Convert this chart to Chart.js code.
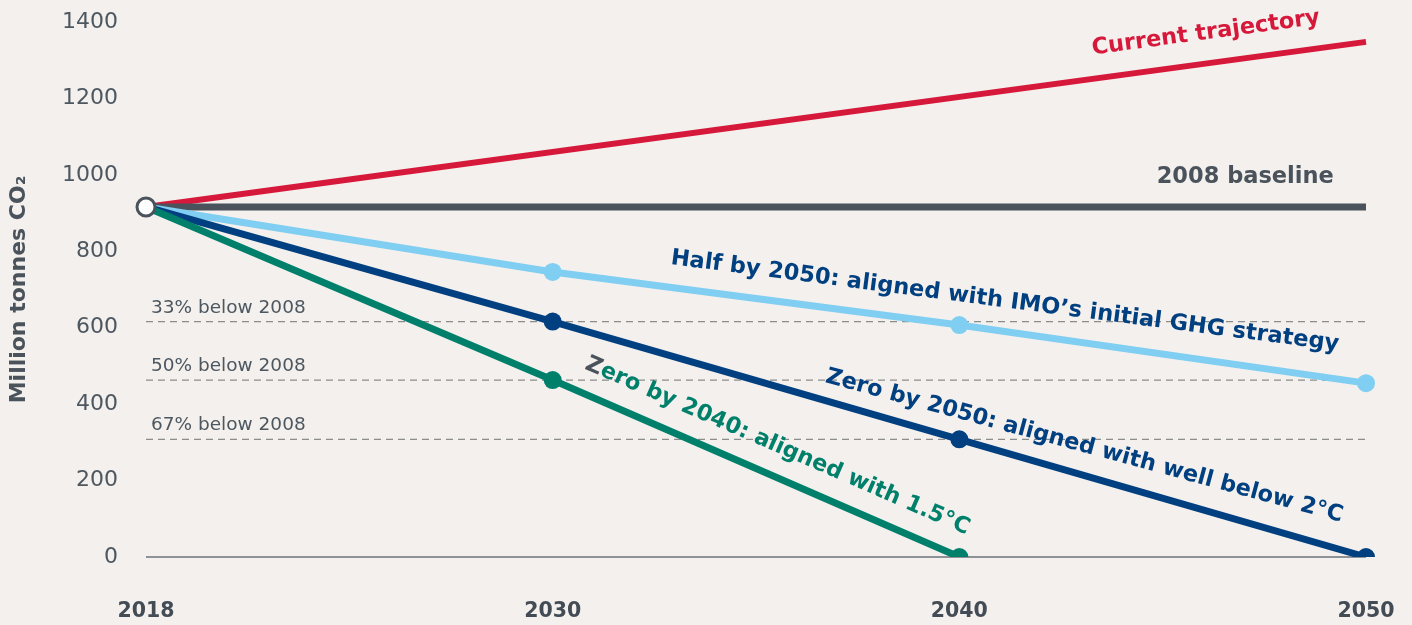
<!DOCTYPE html>
<html>
<head>
<meta charset="utf-8">
<script src="https://cdn.jsdelivr.net/npm/chart.js@4"></script>
<style>
  html, body { margin: 0; padding: 0; background: #F3F0ED; }
  #wrap { width: 1412px; height: 625px; position: relative; }
</style>
</head>
<body>
<div id="wrap"><canvas id="c" width="1412" height="625"></canvas></div>
<script>
// ---- data ----
const years = ['2018', '2030', '2040', '2050'];
const currentTrajectory = [916, null, null, 1348];
const baseline2008      = [916, null, null, 916];
const halfBy2050        = [916, 746, 607, 455];
const zeroBy2050        = [916, 616, 308, 0];
const zeroBy2040        = [916, 463, 0, null];
const startPoint        = [916, null, null, null];
const below33           = [616, null, null, 616];
const below50           = [463, null, null, 463];
const below67           = [308, null, null, 308];
const yMin = 0, yMax = 1400, yStep = 200;
const refLabels = ['33% below 2008', '50% below 2008', '67% below 2008'];

// ---- styles ----
const C = {
  bg: '#F3F0ED', red: '#D6193A', gray: '#4A535B', light: '#80CEF1',
  navy: '#003F80', green: '#00806B', dash: '#8C8C8C', axis: '#8E9196', text: '#4D5760'
};
const FONT = '"DejaVu Sans", sans-serif';

function lineDs(label, data, color, width, order, pts) {
  return {
    label, data, borderColor: color, backgroundColor: color, borderWidth: width,
    pointRadius: pts ? [0, 9, 9, 9] : 0, pointHoverRadius: 0, pointBorderWidth: 0,
    spanGaps: true, tension: 0, order, borderCapStyle: 'butt'
  };
}
function dashDs(label, data) {
  return {
    label, data, borderColor: C.dash, borderWidth: 1.3, borderDash: [7, 5],
    pointRadius: 0, spanGaps: true, order: 10
  };
}

const datasets = [
  { label: 'start', data: startPoint, borderColor: C.gray, backgroundColor: '#ffffff',
    pointRadius: 9, pointBorderWidth: 3, showLine: false, order: 0 },
  lineDs('Zero by 2040', zeroBy2040, C.green, 7, 1, true),
  lineDs('Zero by 2050', zeroBy2050, C.navy, 7, 2, true),
  lineDs('Half by 2050', halfBy2050, C.light, 7, 3, true),
  lineDs('2008 baseline', baseline2008, C.gray, 7, 4, false),
  lineDs('Current trajectory', currentTrajectory, C.red, 6, 5, false),
  dashDs('33%', below33), dashDs('50%', below50), dashDs('67%', below67)
];

// text annotations along lines: dataset index, segment endpoints, fraction, perpendicular offset
const lineLabels = [
  { ds: 5, from: 0, to: 3, t: 0.872, off: 30, adj: 0, text: 'Current trajectory', color: C.red },
  { ds: 4, from: 0, to: 3, t: 0.901, off: 30, adj: 0, text: '2008 baseline', color: C.gray },
  { ds: 3, from: 1, to: 3, t: 0.551, off: 32, adj: -0.4, text: 'Half by 2050: aligned with IMO\u2019s initial GHG strategy', color: C.navy },
  { ds: 2, from: 2, to: 3, t: 0.289, off: 28, adj: -1, text: 'Zero by 2050: aligned with well below 2\u00B0C', color: C.navy },
  { ds: 1, from: 1, to: 2, t: 0.524, off: 29, adj: 0, text: 'Zero by 2040: aligned with 1.5\u00B0C', color: C.green, firstColor: C.gray }
];

const bgPlugin = {
  id: 'bg',
  beforeDraw(chart) {
    const ctx = chart.ctx;
    ctx.save(); ctx.fillStyle = C.bg; ctx.fillRect(0, 0, chart.width, chart.height); ctx.restore();
  }
};

const labelPlugin = {
  id: 'lineLabels',
  afterDatasetsDraw(chart) {
    const ctx = chart.ctx;
    ctx.save();
    const ys = chart.scales.y;
    const refVals = [below33[0], below50[0], below67[0]];
    ctx.font = '18.5px ' + FONT;
    ctx.fillStyle = C.text;
    ctx.textAlign = 'left';
    ctx.textBaseline = 'alphabetic';
    refVals.forEach((v, i) => {
      ctx.fillText(refLabels[i], chart.chartArea.left + 5, ys.getPixelForValue(v) - 9);
    });
    lineLabels.forEach(L => {
      const meta = chart.getDatasetMeta(L.ds);
      const p0 = meta.data[L.from], p1 = meta.data[L.to];
      const x = p0.x + L.t * (p1.x - p0.x);
      const y = p0.y + L.t * (p1.y - p0.y);
      const ang = Math.atan2(p1.y - p0.y, p1.x - p0.x) + L.adj * Math.PI / 180;
      ctx.save();
      ctx.translate(x, y);
      ctx.rotate(ang);
      ctx.font = 'bold 22.5px ' + FONT;
      ctx.textBaseline = 'middle';
      if (L.firstColor) {
        const w = ctx.measureText(L.text).width;
        const first = L.text[0];
        const fw = ctx.measureText(first).width;
        ctx.textAlign = 'left';
        ctx.fillStyle = L.firstColor;
        ctx.fillText(first, -w / 2, -L.off);
        ctx.fillStyle = L.color;
        ctx.fillText(L.text.slice(1), -w / 2 + fw, -L.off);
      } else {
        ctx.textAlign = 'center';
        ctx.fillStyle = L.color;
        ctx.fillText(L.text, 0, -L.off);
      }
      ctx.restore();
    });
    ctx.restore();
  }
};

new Chart(document.getElementById('c'), {
  type: 'line',
  data: { labels: years, datasets },
  options: {
    responsive: false,
    animation: false,
    events: [],
    layout: { padding: { top: 22, right: 46, left: 0, bottom: 0 } },
    plugins: { legend: { display: false }, tooltip: { enabled: false } },
    scales: {
      x: {
        type: 'category',
        offset: false,
        grid: { display: false, drawTicks: false },
        border: { display: false },
        ticks: { color: '#434C55', font: { family: FONT, size: 20.5, weight: 'bold' }, padding: 42, maxRotation: 0 },
        afterFit(s) { s.height = 68; s.paddingLeft = 0; s.paddingRight = 0; }
      },
      y: {
        min: yMin, max: yMax,
        grid: {
          drawTicks: false,
          color: ctx => (ctx.tick && ctx.tick.value === 0 ? C.axis : 'rgba(0,0,0,0)'),
          lineWidth: 2
        },
        border: { display: false },
        ticks: {
          stepSize: yStep, color: C.text, font: { family: FONT, size: 22 }, padding: 28,
          callback: v => String(v)
        },
        title: {
          display: true, text: 'Million tonnes CO\u2082', color: C.gray,
          font: { family: FONT, size: 22, weight: 'bold' }, padding: { top: 6, bottom: 0 }
        },
        afterFit(s) { s.width = 146; s.paddingTop = 0; s.paddingBottom = 0; }
      }
    }
  },
  plugins: [bgPlugin, labelPlugin]
});
</script>
</body>
</html>
